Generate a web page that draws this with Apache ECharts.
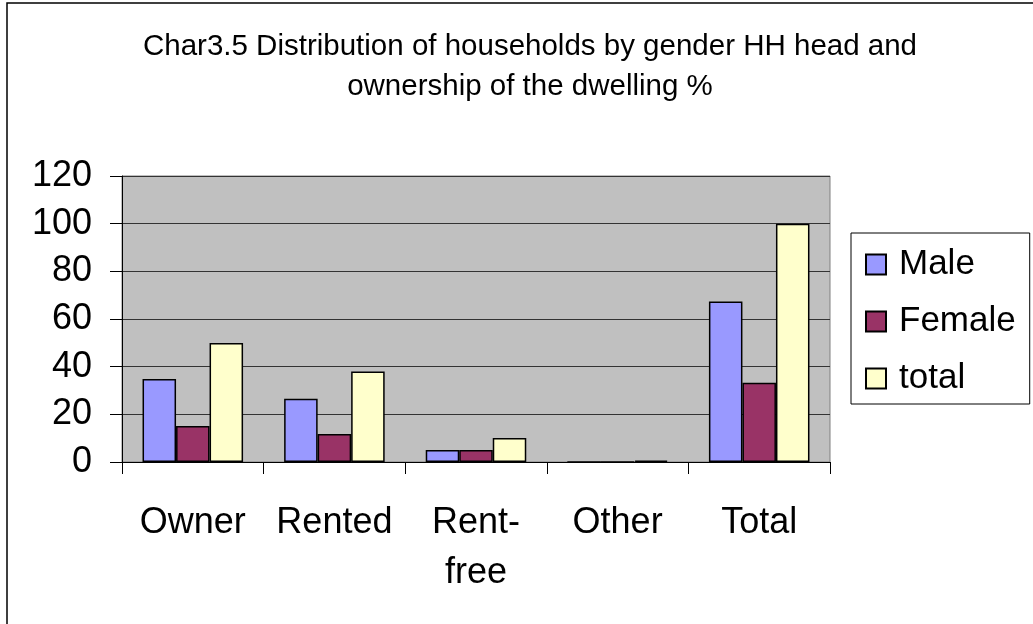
<!DOCTYPE html>
<html>
<head>
<meta charset="utf-8">
<script src="https://cdn.jsdelivr.net/npm/echarts@6/dist/echarts.min.js"></script>
<style>
  html, body { margin: 0; padding: 0; background: #fff; }
  #main { width: 1033px; height: 624px; }
</style>
</head>
<body>
<div id="main"></div>
<script>
// categories and values
var categories = ["Owner", "Rented", "Rent-\nfree", "Other", "Total"];
var maleData = [34.8, 26.5, 5.0, 0, 67.3];
var femaleData = [15.1, 11.8, 5.0, 0, 33.2];
var totalData = [49.9, 38.0, 10.1, 0.6, 100];
var yTicks = [0, 20, 40, 60, 80, 100, 120];

var chart = echarts.init(document.getElementById("main"));

var font = "Liberation Sans, Arial, sans-serif";

function bar(name, data, color) {
  return {
    name: name,
    type: "bar",
    data: data,
    barGap: "0%",
    barCategoryGap: "29%",
    itemStyle: {
      color: color,
      borderColor: "#000",
      borderWidth: 1.5
    }
  };
}

var option = {
  backgroundColor: "#fff",
  animation: false,
  textStyle: { fontFamily: font },
  title: {
    text: "Char3.5 Distribution of households by gender HH head and\nownership of the dwelling %",
    left: 525,
    top: 22,
    textAlign: "center",
    textStyle: {
      fontFamily: font,
      fontSize: 29.5,
      fontWeight: "normal",
      color: "#000",
      lineHeight: 40
    }
  },
  graphic: [{
    type: "rect",
    shape: { x: 7, y: 3, width: 1060, height: 660 },
    style: { fill: null, stroke: "#000", lineWidth: 1.5 },
    silent: true
  }],
  legend: {
    orient: "vertical",
    left: 851,
    top: 233,
    padding: [14, 14, 8, 14],
    itemGap: 22,
    itemWidth: 20,
    itemHeight: 20,
    icon: "rect",
    borderColor: "#000",
    borderWidth: 1,
    textStyle: { fontFamily: font, fontSize: 35, color: "#000", padding: [0, 0, 0, 8] },
    data: ["Male", "Female", "total"]
  },
  grid: {
    left: 122,
    right: 203,
    top: 176,
    bottom: 162,
    show: true,
    backgroundColor: "#C0C0C0",
    borderColor: "#808080",
    borderWidth: 1
  },
  xAxis: {
    type: "category",
    data: categories,
    axisLine: { lineStyle: { color: "#000", width: 1 } },
    axisTick: { show: true, length: 12, lineStyle: { color: "#000" } },
    axisLabel: {
      interval: 0,
      fontFamily: font,
      fontSize: 36,
      color: "#000",
      margin: 36,
      lineHeight: 50
    }
  },
  yAxis: {
    type: "value",
    min: 0,
    max: 120,
    interval: 20,
    axisLine: { show: true, lineStyle: { color: "#000", width: 1 } },
    axisTick: { show: true, length: 12, lineStyle: { color: "#000" } },
    splitLine: { lineStyle: { color: "#333", width: 1 } },
    axisLabel: {
      fontFamily: font,
      fontSize: 36,
      color: "#000",
      margin: 30,
      formatter: function (v) { return yTicks.indexOf(v) >= 0 ? String(v) : ""; }
    }
  },
  series: [
    bar("Male", maleData, "#9999FF"),
    bar("Female", femaleData, "#993366"),
    bar("total", totalData, "#FFFFCC")
  ]
};

chart.setOption(option);
</script>
</body>
</html>
